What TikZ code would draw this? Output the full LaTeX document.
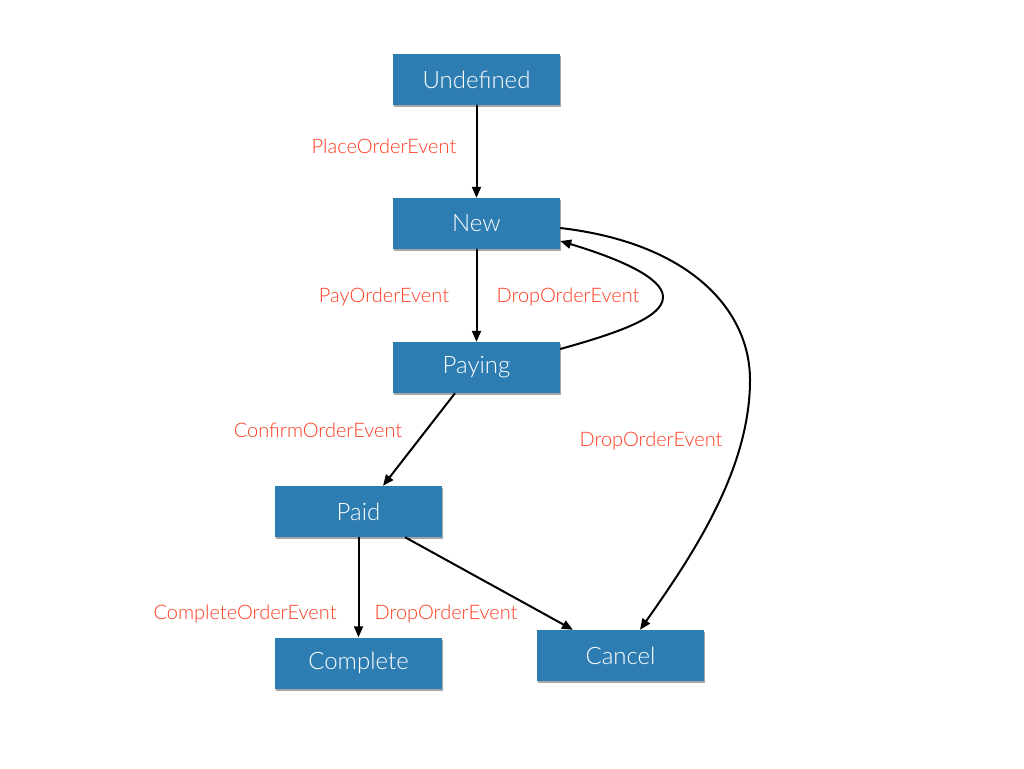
\documentclass[tikz,border=0pt]{standalone}
\usepackage{fontspec}
\setmainfont{Lato Light}
\usetikzlibrary{arrows.meta,shadows}
\definecolor{stateblue}{RGB}{46,125,178}
\definecolor{eventred}{RGB}{255,59,31}
\begin{document}
\begin{tikzpicture}[x=1pt,y=-1pt,
  state/.style={rectangle, fill=stateblue, minimum width=167pt, minimum height=51pt,
    inner sep=0pt, text=white, font=\fontsize{24}{28}\selectfont,
    drop shadow={shadow xshift=1pt, shadow yshift=-2pt, opacity=0.35, fill=black}},
  event/.style={text=eventred, font=\fontsize{20}{24}\selectfont, inner sep=0pt},
  trans/.style={line width=2pt, -{Triangle[length=11pt,width=9pt]}}]
\useasboundingbox (0,0) rectangle (1024,768);

% states
\node[state] (undef) at (476.5,79.5) {Undefined};
\node[state] (new) at (476.5,223.5) {New};
\node[state] (paying) at (476.5,367.5) {Paying};
\node[state] (paid) at (358.5,511.5) {Paid};
\node[state] (complete) at (358.5,663) {Complete};
\node[state] (cancel) at (620.5,655.5) {Cancel};

% transitions
\draw[trans] (undef.south) -- (new.north);
\draw[trans] (new.south) -- (paying.north);
\draw[trans] (paying.south -| 455,0) -- (paid.north -| 383,0);
\draw[trans] (paid.south) -- (complete.north);
\draw[trans] (paid.south -| 405,0) -- (cancel.north -| 573,0);
\draw[trans] (paying.east |- 0,349) .. controls (625,331) and (663,316) .. (663,297)
  .. controls (663,278) and (620,259) .. (new.east |- 0,241);
\draw[trans] (new.east |- 0,228) .. controls (690,243) and (750,310) .. (750,380)
  .. controls (750,470) and (692,556) .. (cancel.north -| 640,0);

% event labels
\node[event] (e1) at (384,146) {PlaceOrderEvent};
\node[event] (e2) at (384,297) {PayOrderEvent};
\node[event] (e3) at (568,297) {DropOrderEvent};
\node[event] (e4) at (318,430) {ConfirmOrderEvent};
\node[event] (e5) at (651,441) {DropOrderEvent};
\node[event] (e6) at (245,614) {CompleteOrderEvent};
\node[event] (e7) at (446,614) {DropOrderEvent};
\end{tikzpicture}
\end{document}
